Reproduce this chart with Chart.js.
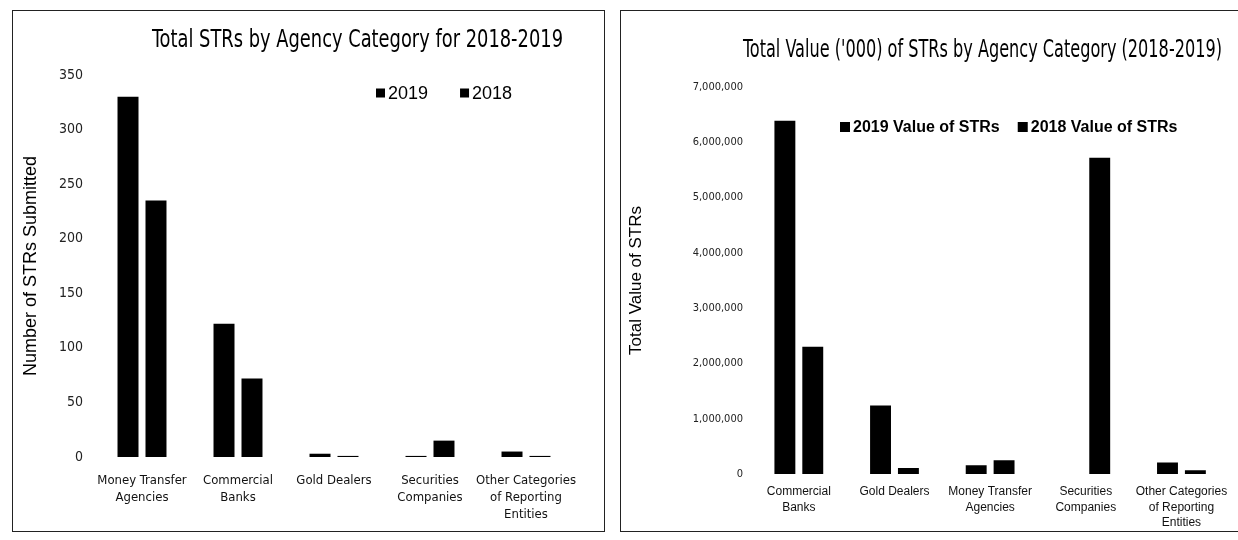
<!DOCTYPE html>
<html>
<head>
<meta charset="utf-8">
<title>STRs by Agency Category</title>
<script src="https://cdn.jsdelivr.net/npm/chart.js@4.4.1/dist/chart.umd.min.js"></script>
<style>
  body { margin: 0; background: #fff; width: 1238px; height: 540px; overflow: hidden; position: relative; }
  .frame { position: absolute; border: 1px solid #222; }
  #countFrame { left: 12px; top: 10px; width: 591px; height: 520px; }
  #valueFrame { left: 620px; top: 10px; width: 640px; height: 520px; }
  canvas { position: absolute; left: 0; top: 0; }
</style>
</head>
<body>
<div class="frame" id="countFrame"><canvas id="countChart" width="591" height="520"></canvas></div>
<div class="frame" id="valueFrame"><canvas id="valueChart" width="617" height="520"></canvas></div>
<script>
// number of STRs per agency category
const countCategories = [
  ['Money Transfer', 'Agencies'],
  ['Commercial', 'Banks'],
  'Gold Dealers',
  ['Securities', 'Companies'],
  ['Other Categories', 'of Reporting', 'Entities']
];
const count2019 = [330, 122, 3, 1, 5];
const count2018 = [235, 72, 1, 15, 1];

// value of STRs ('000) per agency category
const valueCategories = [
  ['Commercial', 'Banks'],
  'Gold Dealers',
  ['Money Transfer', 'Agencies'],
  ['Securities', 'Companies'],
  ['Other Categories', 'of Reporting', 'Entities']
];
const value2019 = [6390000, 1240000, 160000, 0, 210000];
const value2018 = [2300000, 110000, 250000, 5720000, 70000];

const NARROW = "'Liberation Sans Narrow', 'Arial Narrow', 'Noto Sans Condensed', 'DejaVu Sans Condensed', 'Liberation Sans', sans-serif";
const SANS = "'Liberation Sans', Arial, sans-serif";

// legend drawn inside the plot, square + label per dataset
const insideLegend = {
  id: 'insideLegend',
  afterDatasetsDraw(chart, args, opts) {
    const ctx = chart.ctx;
    let x = opts.x;
    ctx.save();
    ctx.font = opts.font;
    ctx.textBaseline = 'middle';
    chart.data.datasets.forEach(ds => {
      ctx.fillStyle = ds.backgroundColor;
      ctx.fillRect(x, opts.y - opts.box / 2, opts.box, opts.box);
      x += opts.box + opts.gap;
      ctx.fillStyle = '#000';
      ctx.fillText(ds.label, x, opts.y + 1);
      x += ctx.measureText(ds.label).width + opts.spacing;
    });
    ctx.restore();
  }
};

// title box limited to a fixed horizontal span; longer text gets squeezed into it
const titleSpan = {
  id: 'titleSpan',
  afterLayout(chart, args, opts) {
    const t = chart.titleBlock;
    if (!t || opts.left == null) return;
    t.left = opts.left;
    t.right = opts.right;
    t.width = opts.right - opts.left;
  }
};

function barOptions(cfg) {
  return {
    responsive: false,
    animation: false,
    datasets: { bar: { categoryPercentage: 0.583, barPercentage: 0.75 } },
    layout: { padding: cfg.padding },
    plugins: {
      legend: { display: false },
      tooltip: { enabled: false },
      title: {
        display: true,
        text: cfg.title,
        align: 'center',
        fullSize: false,
        color: '#000',
        font: { family: NARROW, size: 25, weight: 'normal', lineHeight: 1.2 },
        padding: cfg.titlePadding
      },
      titleSpan: cfg.titleSpan,
      insideLegend: cfg.legend
    },
    scales: {
      x: {
        afterFit: s => { s.height = cfg.axisHeight; },
        grid: { display: false, drawTicks: false },
        border: { display: false },
        ticks: {
          autoSkip: false,
          maxRotation: 0,
          padding: cfg.xPad,
          color: '#111',
          font: cfg.xFont
        }
      },
      y: {
        min: 0,
        max: cfg.max,
        afterFit: s => { s.width = cfg.axisWidth; },
        grid: { display: false, drawTicks: false },
        border: { display: false },
        ticks: {
          stepSize: cfg.step,
          padding: cfg.yPad,
          color: '#222',
          font: cfg.yFont
        },
        title: {
          display: true,
          text: cfg.yTitle,
          color: '#000',
          font: { family: SANS, size: cfg.yTitleSize },
          padding: { top: cfg.yTitleTop, bottom: 0 }
        }
      }
    }
  };
}

new Chart(document.getElementById('countChart'), {
  type: 'bar',
  data: {
    labels: countCategories,
    datasets: [
      { label: '2019', data: count2019, backgroundColor: '#000' },
      { label: '2018', data: count2018, backgroundColor: '#000' }
    ]
  },
  options: barOptions({
    padding: { left: 0, right: 30, top: 0, bottom: 0 },
    title: 'Total STRs by Agency Category for 2018-2019',
    titleSpan: { left: 139, right: 550 },
    titlePadding: { top: 14, bottom: 20 },
    legend: { x: 363, y: 82, box: 9, gap: 3, spacing: 32, font: '18px ' + SANS },
    xPad: 15,
    xFont: { family: NARROW, size: 13, lineHeight: 1.3 },
    axisHeight: 74,
    max: 350,
    step: 50,
    axisWidth: 81,
    yPad: 11,
    yFont: { family: NARROW, size: 14 },
    yTitle: 'Number of STRs Submitted',
    yTitleSize: 18,
    yTitleTop: 7
  }),
  plugins: [insideLegend, titleSpan]
});

new Chart(document.getElementById('valueChart'), {
  type: 'bar',
  data: {
    labels: valueCategories,
    datasets: [
      { label: '2019 Value of STRs', data: value2019, backgroundColor: '#000' },
      { label: '2018 Value of STRs', data: value2018, backgroundColor: '#000' }
    ]
  },
  options: barOptions({
    padding: { left: 0, right: 6, top: 0, bottom: 0 },
    title: "Total Value ('000) of STRs by Agency Category (2018-2019)",
    titleSpan: { left: 122, right: 601 },
    titlePadding: { top: 24, bottom: 22 },
    legend: { x: 219, y: 116, box: 10, gap: 3, spacing: 18, font: 'bold 16px ' + SANS },
    xPad: 10,
    xFont: { family: SANS, size: 12, lineHeight: 1.3 },
    axisHeight: 57,
    max: 7000000,
    step: 1000000,
    axisWidth: 130,
    yPad: 8,
    yFont: { family: NARROW, size: 11 },
    yTitle: 'Total Value of STRs',
    yTitleSize: 17,
    yTitleTop: 5
  }),
  plugins: [insideLegend, titleSpan]
});
</script>
</body>
</html>
